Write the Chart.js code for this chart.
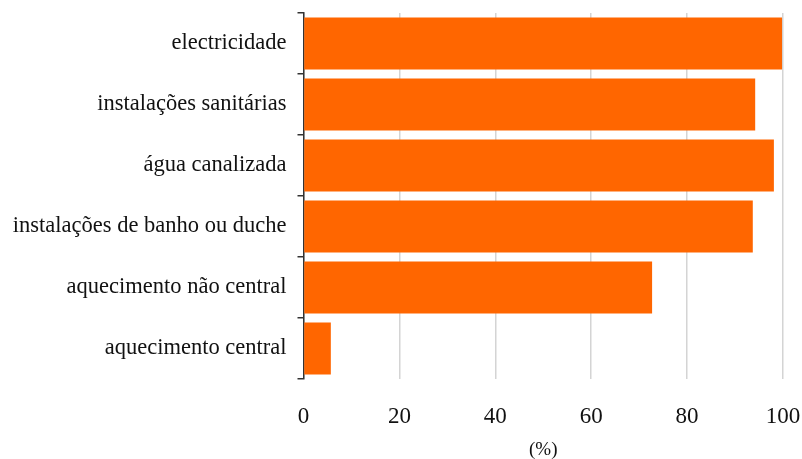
<!DOCTYPE html>
<html>
<head>
<meta charset="utf-8">
<script src="https://cdn.jsdelivr.net/npm/chart.js@4/dist/chart.umd.min.js"></script>
<style>
  html, body { margin: 0; padding: 0; background: #fff; }
  #wrap { width: 802px; height: 459px; }
</style>
</head>
<body>
<div id="wrap"><canvas id="barChart" width="802" height="459"></canvas></div>
<script>
const categories = ['electricidade', 'instalações sanitárias', 'água canalizada',
    'instalações de banho ou duche', 'aquecimento não central', 'aquecimento central'];
const values = [99.8, 94.2, 98.1, 93.7, 72.7, 5.7];
const xTicks = [0, 20, 40, 60, 80, 100];

const ctx = document.getElementById('barChart').getContext('2d');
new Chart(ctx, {
    type: 'bar',
    data: {
        labels: categories,
        datasets: [{
            data: values,
            backgroundColor: '#ff6600',
            categoryPercentage: 1,
            barPercentage: 0.85
        }]
    },
    options: {
        indexAxis: 'y',
        responsive: false,
        animation: false,
        layout: { padding: { top: 13, right: 19, left: 0, bottom: 0 } },
        plugins: { legend: { display: false }, tooltip: { enabled: false } },
        scales: {
            x: {
                min: 0, max: 100,
                afterBuildTicks: function(axis) { axis.ticks = xTicks.map(v => ({ value: v })); },
                afterFit: function(axis) {
                    axis.height = 80;
                    axis.paddingLeft = 0;
                    axis.paddingRight = 0;
                },
                border: { display: false },
                grid: { color: '#d4d4d4', lineWidth: 1.5, drawTicks: false },
                ticks: { color: '#111', padding: 24, font: { family: 'Liberation Serif', size: 23 } },
                title: { display: true, text: '(%)', color: '#111', padding: { top: 10, bottom: -1 },
                    font: { family: 'Liberation Serif', size: 19, lineHeight: 1 } }
            },
            y: {
                afterFit: function(axis) {
                    axis.width = 303.5;
                    axis.paddingTop = 0;
                    axis.paddingBottom = 0;
                },
                border: { display: true, color: '#333', width: 1.5 },
                grid: { drawOnChartArea: false, offset: true, tickLength: 6, color: '#333', lineWidth: 1.5 },
                ticks: { color: '#111', padding: 11, font: { family: 'Liberation Serif', size: 22.5 } }
            }
        }
    }
});
</script>
</body>
</html>
